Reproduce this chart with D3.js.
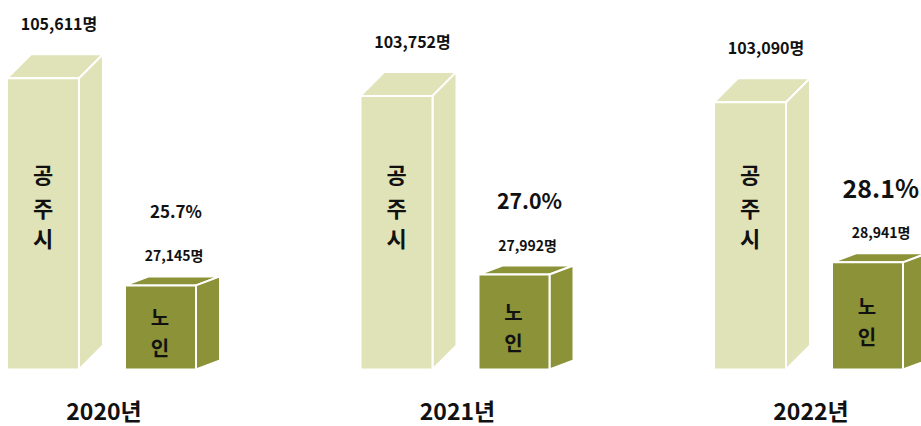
<!DOCTYPE html>
<html>
<head>
<meta charset="utf-8">
<script src="https://cdn.jsdelivr.net/npm/d3@7"></script>
<style>
  body { margin: 0; background: #fff; }
  text { font-family: "Noto Sans CJK KR", "Noto Sans", sans-serif; font-weight: 700; fill: #111; }
</style>
</head>
<body>
<div id="chart"></div>
<script>
// 공주시 인구 vs 노인 인구
var years = ['2020년', '2021년', '2022년'];
var total = [105611, 103752, 103090];
var elderly = [27145, 27992, 28941];
var ratio = [25.7, 27.0, 28.1];
var totalName = ['공', '주', '시'];
var elderName = ['노', '인'];

var W = 921, H = 426, base = 369.5;
var lightFill = '#e0e3b7', darkFill = '#8b9238';

var svg = d3.select('#chart').append('svg')
  .attr('width', W).attr('height', H);

var x = d3.scaleBand().domain(years).range([7, 7 + 3 * 353.5]);
// bars in the picture are not from zero, they start from a cut domain
var hTotal = d3.scaleLinear().domain([75000, 106000]).range([0, 295]);
var hElder = d3.scaleLinear().domain([20600, 29000]).range([0, 107.9]);
var pctSize = d3.scaleLinear().domain([25.7, 28.1]).range([17, 25]);

function box(g, x0, w, h, dx, dy, fill) {
  var top = base - h;
  var faces = [
    [[x0, top], [x0 + w, top], [x0 + w + dx, top + dy], [x0 + dx, top + dy]],
    [[x0 + w, top], [x0 + w + dx, top + dy], [x0 + w + dx, base + dy], [x0 + w, base]],
    [[x0, top], [x0 + w, top], [x0 + w, base], [x0, base]]
  ];
  g.selectAll(null).data(faces).enter().append('polygon')
    .attr('points', function (d) { return d.join(' '); })
    .attr('fill', fill)
    .attr('stroke', '#fff')
    .attr('stroke-width', 2)
    .attr('stroke-linejoin', 'miter');
}

years.forEach(function (yr, i) {
  var gx = x(yr);
  var g = svg.append('g');

  // tall bar (공주시)
  var th = hTotal(total[i]);
  box(g, gx, 72, th, 24, -24, lightFill);
  g.append('text')
    .attr('x', gx + 52).attr('y', base - th - 24 - 31)
    .attr('text-anchor', 'middle').attr('dominant-baseline', 'central')
    .style('font-size', '16px')
    .text(d3.format(',')(total[i]) + '명');
  var nameY = [173, 207, 237];
  totalName.forEach(function (c, k) {
    g.append('text')
      .attr('x', gx + 36).attr('y', nameY[k])
      .attr('text-anchor', 'middle').attr('dominant-baseline', 'central')
      .style('font-size', '22px')
      .text(c);
  });

  // small bar (노인)
  var sx = gx + 118;
  var sh = hElder(elderly[i]);
  box(g, sx, 71, sh, 24, -9, darkFill);
  var sTop = base - sh - 9;
  g.append('text')
    .attr('x', sx + 49).attr('y', sTop - 21)
    .attr('text-anchor', 'middle').attr('dominant-baseline', 'central')
    .style('font-size', '14px')
    .text(d3.format(',')(elderly[i]) + '명');
  var pct = g.append('text')
    .attr('x', sx + 51).attr('y', sTop - 21 - 45)
    .attr('text-anchor', 'middle').attr('dominant-baseline', 'central')
    .style('font-size', pctSize(ratio[i]) + 'px')
    .text(d3.format('.1f')(ratio[i]) + '%');
  // keep the last one inside the window
  var pw = pct.node().getComputedTextLength();
  if (sx + 51 + pw / 2 > W - 2) pct.attr('x', W - 2 - pw / 2);
  var mid = base - sh / 2 + 5;
  elderName.forEach(function (c, k) {
    g.append('text')
      .attr('x', sx + 35).attr('y', mid + (k - 0.5) * 31)
      .attr('text-anchor', 'middle').attr('dominant-baseline', 'central')
      .style('font-size', '20px')
      .text(c);
  });

  // year
  g.append('text')
    .attr('x', gx + 97).attr('y', 410)
    .attr('text-anchor', 'middle').attr('dominant-baseline', 'central')
    .style('font-size', '23px')
    .text(yr);
});
</script>
</body>
</html>
